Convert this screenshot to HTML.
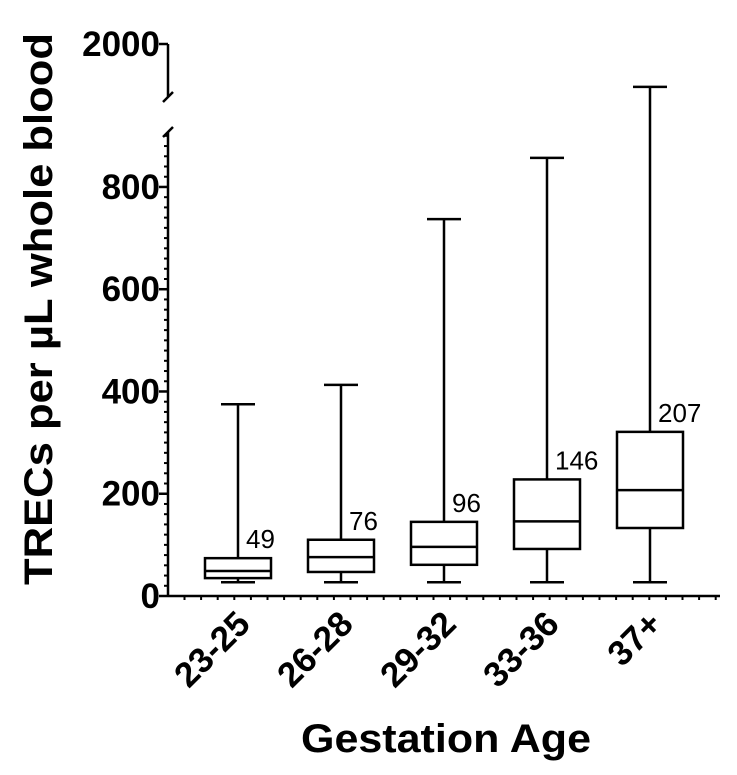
<!DOCTYPE html>
<html><head><meta charset="utf-8"><style>
html,body{margin:0;padding:0;background:#fff;}
svg text{font-family:"Liberation Sans",Arial,sans-serif;}
</style></head><body>
<svg id="chart" width="737" height="770" viewBox="0 0 737 770" xmlns="http://www.w3.org/2000/svg">
<g id="axes"></g>
<g id="marks"></g>
<text transform="translate(52,309) rotate(-90)" text-anchor="middle" font-size="40" font-weight="bold" fill="#000" textLength="552" lengthAdjust="spacingAndGlyphs">TRECs per µL whole blood</text>
<text x="446" y="752" text-anchor="middle" font-size="40" font-weight="bold" fill="#000" textLength="290" lengthAdjust="spacingAndGlyphs">Gestation Age</text>
</svg>
<script>
const categories = ["23-25","26-28","29-32","33-36","37+"];
const mins = [27,27,27,27,27];
const q1s = [35,47,61,92,133];
const medians = [49,76,96,146,207];
const q3s = [74,110,145,228,321];
const maxs = [375,413,737,857,1580];
const medianLabels = ["49","76","96","146","207"];
const lowerTicks = [0,200,400,600,800];
const upperTicks = [2000];

const NS="http://www.w3.org/2000/svg";
const axes=document.getElementById('axes'), marks=document.getElementById('marks');
const AX=168, Y0=596, PX=0.5113;
function yLow(v){return Y0 - v*PX;}
function yUp(v){return 95 - (v-1500)*(51/500);}
function y(v){return v<=900 ? yLow(v) : yUp(v);}
function xc(i){return 238 + i*103;}
function el(t,a,p){const e=document.createElementNS(NS,t);for(const k in a)e.setAttribute(k,a[k]);(p||axes).appendChild(e);return e;}

let a=el('line',{x1:AX,y1:Y0,x2:AX,y2:132,stroke:'#000','stroke-width':2.5});


el('line',{x1:AX-5,y1:137,x2:AX+5,y2:127,stroke:'#000','stroke-width':2.5});
let u=el('line',{x1:AX,y1:44,x2:AX,y2:97,stroke:'#000','stroke-width':2.5});


el('line',{x1:AX-5,y1:102,x2:AX+5,y2:92,stroke:'#000','stroke-width':2.5});
for(let v=0;v<=900;v+=20){el('line',{x1:AX-4,y1:yLow(v),x2:AX,y2:yLow(v),stroke:'#000','stroke-width':2});}
lowerTicks.forEach(v=>{
  el('line',{x1:AX-9,y1:yLow(v),x2:AX,y2:yLow(v),stroke:'#000','stroke-width':2.5});
  const t=el('text',{x:AX-8,y:yLow(v)+12,'text-anchor':'end','font-size':35,'font-weight':'bold'});
  t.textContent=v;
  
  
});
upperTicks.forEach(v=>{
  el('line',{x1:AX-9,y1:yUp(v),x2:AX,y2:yUp(v),stroke:'#000','stroke-width':2.5});
  const t=el('text',{x:AX-8,y:yUp(v)+12,'text-anchor':'end','font-size':35,'font-weight':'bold'});
  t.textContent=v;
  
  
});
let xa=el('line',{x1:AX,y1:Y0,x2:720,y2:Y0,stroke:'#000','stroke-width':2.5});


for(let x=AX+16.5;x<720;x+=16.6){el('line',{x1:x,y1:Y0,x2:x,y2:Y0+4,stroke:'#000','stroke-width':2});}
categories.forEach((c,i)=>{
  const t=el('text',{transform:`translate(${xc(i)+14},${626}) rotate(-45)`,'text-anchor':'end','font-size':35,'font-weight':'bold'});
  t.textContent=c;
  
  
});
const W=66;
categories.forEach((c,i)=>{
  const g=el('g',{},marks);
  
  
  const x=xc(i), s={stroke:'#000','stroke-width':2.5,fill:'none'};
  el('line',Object.assign({x1:x,y1:y(maxs[i]),x2:x,y2:y(q3s[i])},s),g);
  el('line',Object.assign({x1:x,y1:y(q1s[i]),x2:x,y2:y(mins[i])},s),g);
  el('line',Object.assign({x1:x-17,y1:y(maxs[i]),x2:x+17,y2:y(maxs[i])},s),g);
  el('line',Object.assign({x1:x-17,y1:y(mins[i]),x2:x+17,y2:y(mins[i])},s),g);
  el('rect',Object.assign({x:x-W/2,y:y(q3s[i]),width:W,height:y(q1s[i])-y(q3s[i])},s),g);
  el('line',Object.assign({x1:x-W/2,y1:y(medians[i]),x2:x+W/2,y2:y(medians[i])},s),g);
  const t=el('text',{x:x+8,y:y(q3s[i])-10,'font-size':26},g);
  t.textContent=medianLabels[i];
  
  
});
</script>
</body></html>
